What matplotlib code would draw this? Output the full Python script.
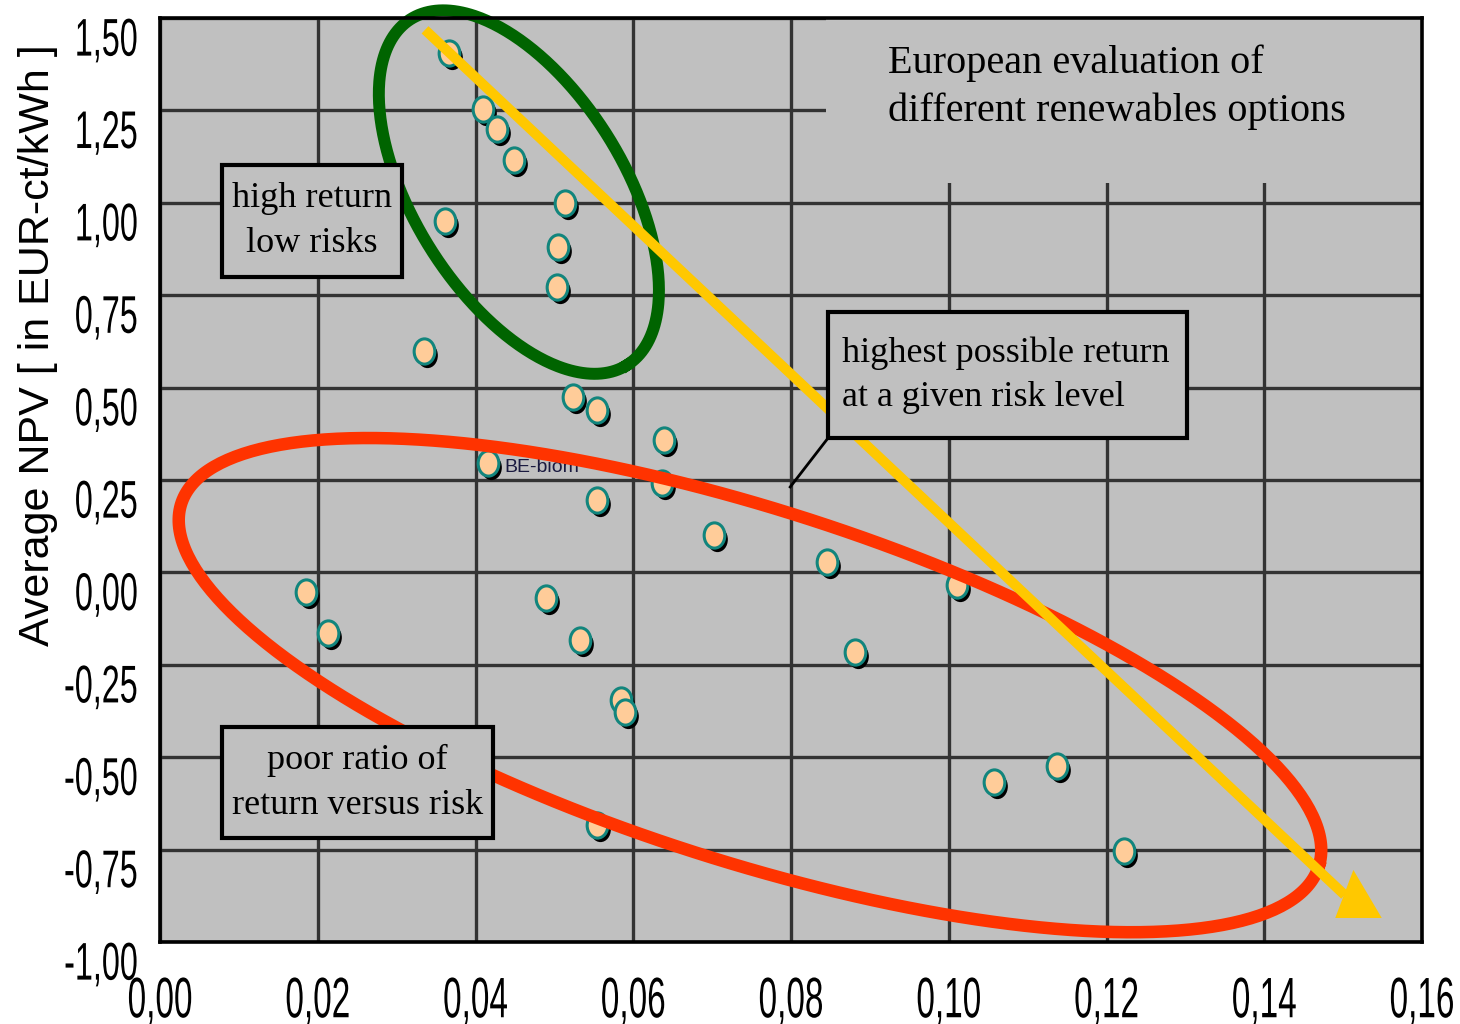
import numpy as np
import matplotlib
matplotlib.use("Agg")
import matplotlib.pyplot as plt
from matplotlib import font_manager, transforms
from matplotlib.patches import Rectangle
from matplotlib.path import Path
from matplotlib.patheffects import AbstractPathEffect

# risk (x) vs average NPV (y), one entry per renewables option
risk = [0.0367, 0.0409, 0.0427, 0.0449, 0.0513, 0.0361, 0.0504, 0.0503,
        0.0335, 0.0523, 0.0554, 0.0639, 0.0416, 0.0636, 0.0554, 0.0702,
        0.0846, 0.1010, 0.0185, 0.0213, 0.0490, 0.0532, 0.0881, 0.0585,
        0.0590, 0.1058, 0.1137, 0.1222, 0.0554]
npv = [1.405, 1.255, 1.200, 1.115, 1.000, 0.950, 0.880, 0.772,
       0.599, 0.475, 0.439, 0.358, 0.296, 0.242, 0.196, 0.101,
       0.028, -0.034, -0.053, -0.164, -0.069, -0.183, -0.215, -0.345,
       -0.378, -0.567, -0.524, -0.754, -0.683]

x_ticks = [0.00, 0.02, 0.04, 0.06, 0.08, 0.10, 0.12, 0.14, 0.16]
y_ticks = [-1.00, -0.75, -0.50, -0.25, 0.00, 0.25, 0.50, 0.75, 1.00, 1.25, 1.50]

BG = "#C0C0C0"
PEACH = "#FFCC99"
TEAL = "#12857D"
GREEN = "#006400"
RED = "#FF3300"
YELLOW = "#FFC800"
GRID = "#333333"


def pick(*names):
    for n in names:
        try:
            font_manager.findfont(font_manager.FontProperties(family=n),
                                  fallback_to_default=False)
            return n
        except ValueError:
            pass
    return "DejaVu Sans"


SANS = pick("Liberation Sans", "DejaVu Sans")
SERIF = pick("Liberation Serif", "DejaVu Serif")


class Stretch(AbstractPathEffect):
    """Tall, narrow tick digits (the source uses a condensed face)."""

    def __init__(self, sx, sy, anchor="center", dy=0):
        super().__init__()
        self.sx, self.sy, self.anchor, self.dy = sx, sy, anchor, dy

    def draw_path(self, renderer, gc, tpath, affine, rgbFace=None):
        ext = tpath.get_extents()
        x0 = {"left": ext.x0, "right": ext.x1}.get(self.anchor,
                                                     (ext.x0 + ext.x1) / 2)
        y0 = (ext.y0 + ext.y1) / 2
        t = transforms.Affine2D().translate(-x0, -y0) \
            .scale(self.sx, self.sy).translate(x0, y0)
        shift = transforms.Affine2D().translate(0, -self.dy)
        renderer.draw_path(gc, tpath, t + affine + shift, rgbFace)


def comma(v):
    return f"{v:.2f}".replace(".", ",")


def ellipse_xy(ax, center, a_px, b_px, angle_deg, n=400):
    """Ellipse given in screen pixels around a data-space centre -> data coords."""
    cx, cy = ax.transData.transform(center)
    t = np.linspace(0, 2 * np.pi, n)
    th = np.deg2rad(angle_deg)
    u, v = a_px * np.cos(t), b_px * np.sin(t)
    X = cx + u * np.cos(th) - v * np.sin(th)
    Y = cy + u * np.sin(th) + v * np.cos(th)
    pts = ax.transData.inverted().transform(np.column_stack([X, Y]))
    return pts[:, 0], pts[:, 1]


fig = plt.figure(figsize=(14.6, 10.24), dpi=100)
ax = fig.add_axes([160 / 1460, 82 / 1024, 1262 / 1460, 924 / 1024])
ax.set_facecolor(BG)
ax.set_xlim(0, 0.16)
ax.set_ylim(-1.0, 1.5)

ax.set_axisbelow(True)
ax.set_xticks(x_ticks, [comma(v) for v in x_ticks])
ax.set_yticks(y_ticks, [comma(v) for v in y_ticks])
ax.grid(True, color=GRID, lw=2.4)
ax.tick_params(length=0)
ax.tick_params(axis="y", pad=16, labelsize=24)
ax.tick_params(axis="x", pad=27, labelsize=24)
for lab in ax.get_yticklabels():
    lab.set_fontfamily(SANS)
    lab.set_va("top")
    lab.set_path_effects([Stretch(0.97, 1.59, "right", dy=8)])
for lab in ax.get_xticklabels():
    lab.set_fontfamily(SANS)
    lab.set_path_effects([Stretch(1.0, 1.71, "center", dy=7)])
for sp in ax.spines.values():
    sp.set_linewidth(2.6)
    sp.set_color("black")
    sp.set_zorder(10)

ax.set_ylabel("Average NPV [ in EUR-ct/kWh ]", fontsize=31, family=SANS,
              va="center")
ax.yaxis.set_label_coords(-0.097, 0.646)

# title area hides the grid behind it
ax.add_patch(Rectangle((0.0844, 1.0536), 0.16 - 0.0844, 1.5 - 1.0536,
                       fc=BG, ec="none", zorder=1))
ax.text(0.0923, 1.313, "European evaluation of\ndifferent renewables options",
        family=SERIF, fontsize=29, va="center", ha="left", zorder=7,
        linespacing=1.37)

# points: slightly tall ellipse markers with a dark drop shadow
circ = Path.unit_circle()
marker = Path(circ.vertices * np.array([0.82, 1.0]), circ.codes)
shadow = transforms.offset_copy(ax.transData, fig=fig, x=3, y=-4, units="dots")
ax.scatter(risk, npv, s=330, marker=marker, c="black", lw=0,
           transform=shadow, zorder=3)
ax.scatter(risk, npv, s=330, marker=marker, c=PEACH, edgecolors=TEAL,
           linewidths=2.2, zorder=3.5)
ax.text(0.0437, 0.283, "BE-biom", fontsize=14, family=SANS, color="#1a1a40",
        va="center", zorder=3.6)

# highlight ellipses
gx, gy = ellipse_xy(ax, (0.0455, 1.029), 204, 105, -58)
ax.plot(gx, gy, color=GREEN, lw=8.6, zorder=4, clip_on=False)
rx, ry = ellipse_xy(ax, (0.0748, -0.305), 597, 176, -17.7)
ax.plot(rx, ry, color=RED, lw=9, zorder=4, clip_on=False)

# efficient-frontier arrow
ax.plot([0.0336, 0.1502], [1.468, -0.873], color=YELLOW, lw=7.2, zorder=5,
        solid_capstyle="butt")
ax.fill([0.1513, 0.1490, 0.1549], [-0.805, -0.935, -0.935], color=YELLOW,
        lw=0, zorder=5)

# annotation boxes
boxes = [
    ((0.00786, 0.7992), 0.03068 - 0.00786, 1.1023 - 0.7992),
    ((0.0847, 0.3636), 0.1302 - 0.0847, 0.7046 - 0.3636),
    ((0.00786, -0.7186), 0.04222 - 0.00786, 0.3003),
]
for xy, w, h in boxes:
    ax.add_patch(Rectangle(xy, w, h, fc=BG, ec="black", lw=3, zorder=6))
ax.plot([0.0847, 0.0799], [0.3636, 0.2311], color="black", lw=2, zorder=6)

ax.text(0.0193, 0.951, "high return\nlow risks", family=SERIF, fontsize=26,
        ha="center", va="center", zorder=7, linespacing=1.45)
ax.text(0.0865, 0.534, "highest possible return\nat a given risk level",
        family=SERIF, fontsize=26, ha="left", va="center", zorder=7,
        linespacing=1.45)
ax.text(0.0250, -0.570, "poor ratio of\nreturn versus risk", family=SERIF,
        fontsize=26, ha="center", va="center", zorder=7, linespacing=1.45)

fig.savefig("out.png", dpi=100, facecolor="white")
